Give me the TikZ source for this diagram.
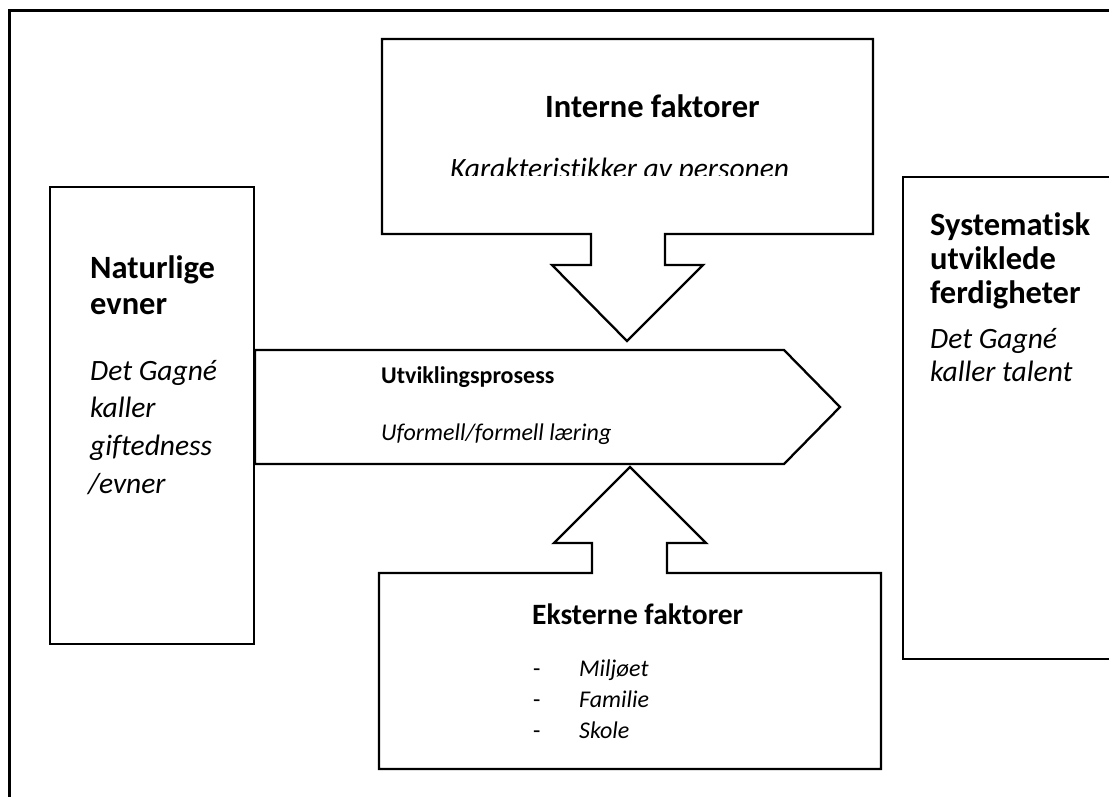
\documentclass[tikz,border=0pt]{standalone}
\usepackage{fontspec}
\setmainfont{Carlito}[RawFeature={-liga}]
\begin{document}
\begin{tikzpicture}[x=1pt,y=-1pt,line join=miter]
\tikzset{
  frameline/.style={line width=3pt},
  blockshape/.style={draw,line width=2.3pt,fill=white},
  headtext/.style={font=\bfseries\fontsize{32.5}{38}\selectfont,anchor=base west,inner sep=0pt},
  bodytext/.style={font=\itshape\fontsize{29.5}{35}\selectfont,anchor=base west,inner sep=0pt},
  smallhead/.style={font=\bfseries\fontsize{24}{29}\selectfont,anchor=base west,inner sep=0pt},
  smallbody/.style={font=\itshape\fontsize{24}{29}\selectfont,anchor=base west,inner sep=0pt},
  dashtext/.style={font=\fontsize{24}{29}\selectfont,anchor=base west,inner sep=0pt}
}
\useasboundingbox (0,0) rectangle (1109,796);
% outer frame
\draw[frameline] (9,800) -- (9,10) -- (1115,10);
% left box
\draw[blockshape] (50,187) rectangle (254,644);
% right box
\draw[blockshape] (903,177) rectangle (1120,659);
% internal factors box with down arrow
\draw[blockshape] (382,39) -- (873,39) -- (873,234) -- (665,234) -- (665,265) -- (703,265)
  -- (627,341) -- (552,265) -- (591,265) -- (591,234) -- (382,234) -- cycle;
% external factors box with up arrow
\draw[blockshape] (379,573) -- (592,573) -- (592,543) -- (554,543) -- (630,467) -- (706,543)
  -- (667,543) -- (667,573) -- (881,573) -- (881,769) -- (379,769) -- cycle;
% central process arrow
\draw[blockshape] (255,350) -- (784,350) -- (840,407) -- (784,464) -- (255,464) -- cycle;

% texts left box
\node[headtext] (n1) at (90,278) {Naturlige};
\node[headtext] (n2) at (90,314) {evner};
\node[bodytext] (n3) at (90,380) {Det Gagné};
\node[bodytext] (n4) at (90,417) {kaller};
\node[bodytext] (n5) at (90,455) {giftedness};
\node[bodytext] (n6) at (88,493) {/evner};
% texts right box
\node[headtext] (s1) at (930,235) {Systematisk};
\node[headtext] (s2) at (930,269) {utviklede};
\node[headtext] (s3) at (930,303) {ferdigheter};
\node[bodytext] (s4) at (930,348) {Det Gagné};
\node[bodytext] (s5) at (930,381) {kaller talent};
% internal factors
\node[headtext] (i1) at (545,117) {Interne faktorer};
\begin{scope}
  \clip (383,40) rectangle (872,175);
  \node[bodytext] (i2) at (450,178) {Karakteristikker av personen};
\end{scope}
% process
\node[smallhead] (u1) at (381,383) {Utviklingsprosess};
\node[smallbody] (u2) at (381,440) {Uformell/formell læring};
% external factors
\node[headtext,font=\bfseries\fontsize{29.5}{35}\selectfont] (e1) at (532,624) {Eksterne faktorer};
\node[dashtext] (d1) at (533,676) {-};
\node[dashtext] (d2) at (533,707) {-};
\node[dashtext] (d3) at (533,738) {-};
\node[smallbody] (e2) at (579,676) {Miljøet};
\node[smallbody] (e3) at (579,707) {Familie};
\node[smallbody] (e4) at (579,738) {Skole};
\end{tikzpicture}
\end{document}
